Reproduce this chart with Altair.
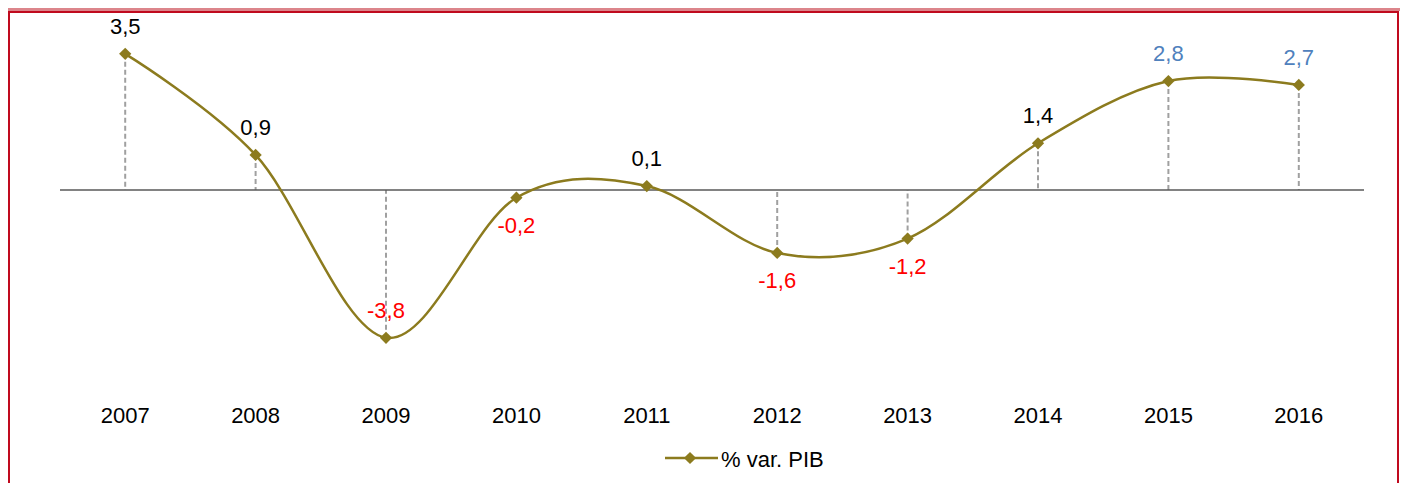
import altair as alt
import pandas as pd

years = ["2007", "2008", "2009", "2010", "2011", "2012", "2013", "2014", "2015", "2016"]
values = [3.5, 0.9, -3.8, -0.2, 0.1, -1.62, -1.25, 1.2, 2.8, 2.7]
labels = ["3,5", "0,9", "-3,8", "-0,2", "0,1", "-1,6", "-1,2", "1,4", "2,8", "2,7"]
forecast = [False, False, False, False, False, False, False, False, True, True]
placement = ["above", "above", "above", "below", "above", "below", "below", "above", "above", "above"]
series_name = "% var. PIB"

OLIVE = "#8C7B1E"
RED = "#FF0000"
BLUE = "#4F81BD"
BORDER = "#C00A1E"
PINK = "#DC858B"
FONT = "Liberation Sans"
FS = 22

kind = ["forecast" if f else ("neg" if v < 0 else "pos") for v, f in zip(values, forecast)]
df = pd.DataFrame({"year": years, "value": values, "label": labels,
                   "kind": kind, "place": placement})

W, H = 1304, 380
x_enc = alt.X("year:O", scale=alt.Scale(paddingInner=0, paddingOuter=0),
              axis=alt.Axis(title=None, domain=False, ticks=False, labelAngle=0,
                            labelFont=FONT, labelFontSize=FS, labelColor="#000000",
                            labelPadding=5, grid=False))
y_scale = alt.Scale(domain=[-5.4, 4.37], nice=False, zero=False)
y_enc = alt.Y("value:Q", scale=y_scale, axis=None)

base = alt.Chart(df)

drops = base.mark_rule(color="#A0A0A0", strokeWidth=2, strokeDash=[5, 3]).encode(
    x=x_enc, y=y_enc, y2=alt.datum(0))

zero = alt.Chart(pd.DataFrame({"z": [0]})).mark_rule(color="#595959", strokeWidth=1.5).encode(
    y=alt.Y("z:Q", scale=y_scale, axis=None))

line = base.mark_line(interpolate="cardinal", tension=0, color=OLIVE, strokeWidth=2.5).encode(
    x=x_enc, y=y_enc)

pts = base.mark_point(shape="diamond", filled=True, size=150, color=OLIVE, opacity=1).encode(
    x=x_enc, y=y_enc)

color_enc = alt.Color("kind:N", scale=alt.Scale(domain=["pos", "neg", "forecast"],
                                                range=["#000000", RED, BLUE]), legend=None)
txt_above = base.transform_filter(alt.datum.place == "above").mark_text(
    font=FONT, fontSize=FS, baseline="middle", dy=-27).encode(
    x=x_enc, y=y_enc, text="label:N", color=color_enc)
txt_below = base.transform_filter(alt.datum.place == "below").mark_text(
    font=FONT, fontSize=FS, baseline="middle", dy=28).encode(
    x=x_enc, y=y_enc, text="label:N", color=color_enc)

one = alt.Chart(pd.DataFrame({"s": [series_name]}))
leg_line = one.mark_rule(color=OLIVE, strokeWidth=2.5).encode(
    x=alt.value(605), x2=alt.value(658), y=alt.value(438))
leg_pt = one.mark_point(shape="diamond", filled=True, size=150, color=OLIVE, opacity=1).encode(
    x=alt.value(630), y=alt.value(438))
leg_txt = one.mark_text(font=FONT, fontSize=FS, align="left", baseline="middle", color="#000000").encode(
    x=alt.value(661), y=alt.value(440), text="s:N")

frame = one.mark_rect(fill=None, stroke=BORDER, strokeWidth=2).encode(
    x=alt.value(-51), x2=alt.value(1338), y=alt.value(-8), y2=alt.value(480))
header = one.mark_rect(fill=PINK, stroke=None).encode(
    x=alt.value(-52), x2=alt.value(1340), y=alt.value(-12), y2=alt.value(-9))

chart = alt.layer(header, frame, drops, zero, line, pts, txt_above, txt_below,
                  leg_line, leg_pt, leg_txt).resolve_scale(color="independent").properties(
    width=W, height=H,
    background="white",
    autosize=alt.AutoSizeParams(type="none"),
    padding={"left": 52, "top": 12, "right": 36, "bottom": 83},
).configure_view(strokeWidth=0, stroke=None)

chart.save("out.html", embed_options={"renderer": "svg", "actions": False})
